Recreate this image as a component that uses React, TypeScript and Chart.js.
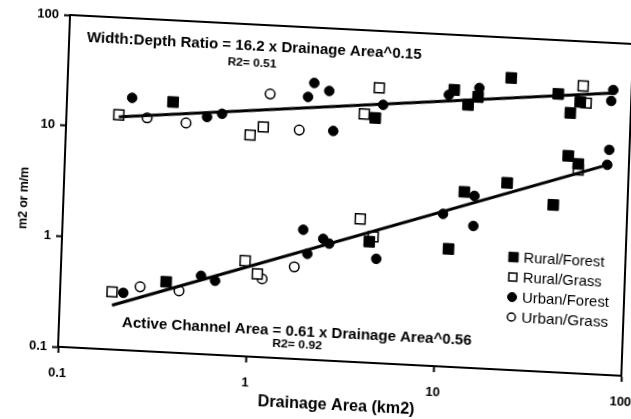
import React, { useEffect, useRef } from 'react';
import { Chart, registerables } from 'chart.js';

Chart.register(...registerables);

// ---- data (drainage area km2 -> width:depth ratio (upper group) / active channel area m2 (lower group)) ----
const seriesLabels = ['Rural/Forest', 'Rural/Grass', 'Urban/Forest', 'Urban/Grass'];

const ruralForestArea = [0.367, 4.39, 11.4, 15.3, 13.6, 22.8, 40.8, 53.6, 47.7, 0.365, 4.31, 11.4, 13.5, 22.7, 40.3, 47.4, 53.8];
const ruralForestValue = [18.3, 16.3, 31.8, 28.2, 23.6, 43.3, 32.7, 28.3, 22.3, 0.433, 1.24, 1.16, 3.86, 4.87, 3.24, 9.11, 7.8];

const ruralGrassArea = [0.19, 0.956, 1.12, 4.55, 3.83, 55.2, 57.7, 0.189, 0.951, 1.11, 3.82, 4.51, 53.9];
const ruralGrassValue = [13.2, 10.0, 12.0, 30.6, 17.5, 39.6, 27.9, 0.332, 0.729, 0.563, 1.97, 1.38, 6.89];

const urbanForestArea = [0.222, 0.56, 0.672, 2.05, 1.91, 2.47, 2.64, 4.81, 10.7, 15.5, 79.9, 78.3, 0.217, 0.558, 0.664, 2.03, 1.91, 2.45, 2.64, 4.73, 10.5, 15.3, 15.3, 78.1, 76.7];
const urbanForestValue = [19.1, 13.9, 15.1, 31.6, 23.5, 27.2, 11.9, 21.6, 28.5, 34.0, 37.6, 29.9, 0.329, 0.509, 0.466, 0.901, 1.48, 1.25, 1.14, 0.874, 2.39, 3.59, 1.92, 10.8, 7.9];

const urbanGrassArea = [0.269, 0.434, 1.2, 1.74, 0.266, 0.429, 1.18, 1.74];
const urbanGrassValue = [12.8, 12.0, 24.0, 11.7, 0.38, 0.364, 0.51, 0.678];

// trend lines (end points)
const ratioFitArea = [0.19, 80];
const ratioFitValue = [12.7, 35.4];
const channelFitArea = [0.19, 76.7];
const channelFitValue = [0.251, 7.88];

const axisTicks = [0.1, 1, 10, 100];
const axisTickLabels = ['0.1', '1', '10', '100'];

const xAxisTitle = 'Drainage Area (km2)';
const yAxisTitle = 'm2 or m/m';

const FAMILY = "'Liberation Sans', Arial, sans-serif";

const annotationLayout = [
  { text: 'Width:Depth Ratio = 16.2 x Drainage Area^0.15', x: 0.1243, y: 63.1, size: 15, bold: true, align: 'left', width: 335 },
  { text: 'R2= 0.51', x: 0.9486, y: 44.8, size: 11, bold: true, align: 'center', width: 49 },
  { text: 'Active Channel Area = 0.61 x Drainage Area^0.56', x: 0.2166, y: 0.1761, size: 15, bold: true, align: 'left', width: 350 },
  { text: 'R2= 0.92', x: 1.865, y: 0.1346, size: 11, bold: true, align: 'center', width: 50 },
];

const seriesStyles = [
  { shape: 'rect', fill: '#000', radius: 7.5, border: 1, legendSize: 9.5 },
  { shape: 'rect', fill: '#fff', radius: 7, border: 1.5, legendSize: 8 },
  { shape: 'circle', fill: '#000', radius: 4.8, border: 1, legendSize: 9 },
  { shape: 'circle', fill: '#fff', radius: 4.8, border: 1.5, legendSize: 8 },
];

const zip = (xs: number[], ys: number[]) => xs.map((x, i) => ({ x, y: ys[i] }));

const fontStr = (size: number, bold: boolean) => `${bold ? 'bold ' : ''}${size}px ${FAMILY}`;

// draw text, horizontally fitted to a target width measured on the reference
function fitText(ctx: CanvasRenderingContext2D, text: string, x: number, y: number, size: number, bold: boolean, align: string, width: number) {
  ctx.font = fontStr(size, bold);
  const w = ctx.measureText(text).width || width;
  const s = Math.max(0.8, Math.min(1.25, width / w));
  ctx.save();
  ctx.translate(x, y);
  ctx.scale(s, 1);
  ctx.textAlign = align as CanvasTextAlign;
  ctx.textBaseline = 'middle';
  ctx.fillText(text, 0, 0);
  ctx.restore();
}

const decorPlugin = {
  id: 'decor',
  afterDraw(chart: any) {
    const { ctx, chartArea: ca, scales } = chart;
    const xs = scales.x;
    const ys = scales.y;
    ctx.save();
    ctx.strokeStyle = '#000';
    ctx.lineWidth = 2;
    ctx.strokeRect(ca.left, ca.top, ca.right - ca.left, ca.bottom - ca.top);

    ctx.fillStyle = '#000';
    for (const a of annotationLayout) {
      fitText(ctx, a.text, xs.getPixelForValue(a.x), ys.getPixelForValue(a.y), a.size, a.bold, a.align, a.width);
    }

    fitText(ctx, xAxisTitle, (ca.left + ca.right) / 2 - 2, ca.bottom + 45, 16, true, 'center', 157);

    ctx.save();
    ctx.translate(ca.left - 40, ca.top + 185);
    ctx.rotate(-Math.PI / 2);
    fitText(ctx, yAxisTitle, 0, 0, 13, true, 'center', 62);
    ctx.restore();

    const lx = ca.right - 112;
    const ly = ca.top + 219;
    seriesLabels.forEach((label, i) => {
      const st = seriesStyles[i];
      const cy = ly + i * 20;
      ctx.beginPath();
      if (st.shape === 'rect') {
        const s = st.legendSize;
        ctx.rect(lx - s / 2, cy - s / 2, s, s);
      } else {
        ctx.arc(lx, cy, st.legendSize / 2, 0, Math.PI * 2);
      }
      ctx.fillStyle = st.fill;
      ctx.fill();
      ctx.lineWidth = st.border;
      ctx.strokeStyle = '#000';
      ctx.stroke();
      ctx.fillStyle = '#000';
      fitText(ctx, label, lx + 10, cy + 1, 14.5, false, 'left', i === 0 ? 81 : i === 1 ? 79 : 87);
    });
    ctx.restore();
  },
};

export default function App() {
  const ref = useRef<HTMLCanvasElement>(null);

  useEffect(() => {
    const seriesData = [
      zip(ruralForestArea, ruralForestValue),
      zip(ruralGrassArea, ruralGrassValue),
      zip(urbanForestArea, urbanForestValue),
      zip(urbanGrassArea, urbanGrassValue),
    ];

    const pointSets = seriesLabels.map((label, i) => ({
      label,
      data: seriesData[i],
      pointStyle: seriesStyles[i].shape,
      pointRadius: seriesStyles[i].radius,
      pointBackgroundColor: seriesStyles[i].fill,
      pointBorderColor: '#000',
      pointBorderWidth: seriesStyles[i].border,
      backgroundColor: seriesStyles[i].fill,
      borderColor: '#000',
      showLine: false,
      order: 1,
    }));

    const fitSets = [
      { label: 'ratio fit', data: zip(ratioFitArea, ratioFitValue) },
      { label: 'channel fit', data: zip(channelFitArea, channelFitValue) },
    ].map((d) => ({
      ...d,
      showLine: true,
      borderColor: '#000',
      borderWidth: 3,
      pointRadius: 0,
      fill: false,
      order: 0,
    }));

    const tickCfg = (min: number, max: number, isX: boolean) => ({
      type: 'logarithmic',
      min,
      max,
      afterBuildTicks: (scale: any) => {
        scale.ticks = axisTicks.map((v) => ({ value: v }));
      },
      afterFit: (scale: any) => {
        if (isX) scale.height = 75;
        else scale.width = 60;
        scale.paddingLeft = 0;
        scale.paddingRight = 0;
        scale.paddingTop = 0;
        scale.paddingBottom = 0;
      },
      ticks: {
        autoSkip: false,
        maxRotation: 0,
        padding: isX ? 13 : 5,
        color: '#000',
        font: { family: FAMILY, size: 13, weight: 'bold' },
        callback: (value: number) => {
          const i = axisTicks.indexOf(value);
          return i >= 0 ? axisTickLabels[i] : '';
        },
      },
      grid: {
        display: true,
        drawOnChartArea: false,
        drawTicks: true,
        tickLength: 6,
        tickWidth: 2,
        tickColor: '#000',
        color: '#000',
      },
      border: { display: true, color: '#000', width: 2 },
    });

    const chart = new Chart(ref.current as HTMLCanvasElement, {
      type: 'scatter',
      data: { datasets: [...fitSets, ...pointSets] as any },
      options: {
        responsive: false,
        animation: false,
        events: [],
        layout: { padding: { top: 18, right: 26, bottom: 0, left: 0 } },
        scales: {
          x: tickCfg(0.1, 100, true) as any,
          y: tickCfg(0.1, 100, false) as any,
        },
        plugins: {
          legend: { display: false },
          tooltip: { enabled: false },
        },
      },
      plugins: [decorPlugin],
    });
    return () => chart.destroy();
  }, []);

  return (
    <div
      style={{
        position: 'fixed',
        left: 0,
        top: 0,
        width: 631,
        height: 419,
        overflow: 'hidden',
        background: '#fff',
      }}
    >
      <canvas
        ref={ref}
        width={650}
        height={425}
        style={{
          position: 'absolute',
          left: 0,
          top: 0,
          width: 650,
          height: 425,
          transformOrigin: '0 0',
          transform: 'matrix(0.9982, 0.0514, -0.0361, 1, 10.76, -6.08)',
        }}
      />
    </div>
  );
}
